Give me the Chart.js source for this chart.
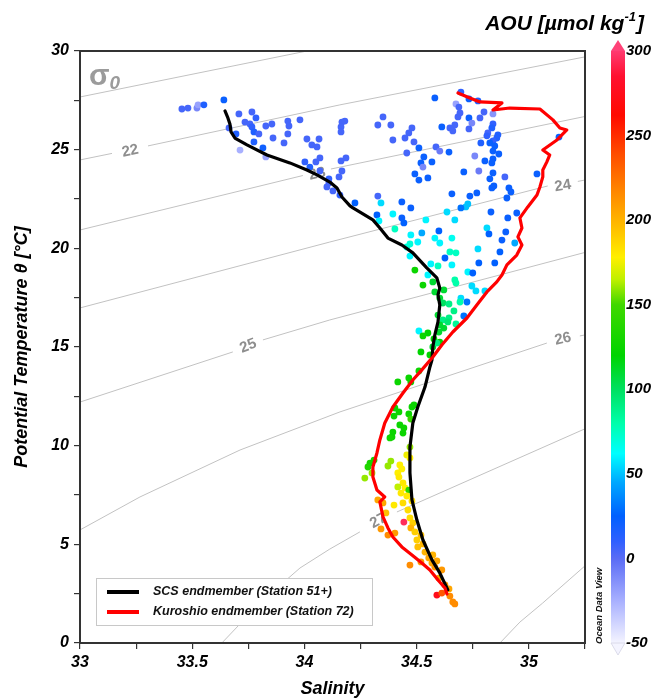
<!DOCTYPE html>
<html>
<head>
<meta charset="utf-8">
<script src="https://cdn.jsdelivr.net/npm/chart.js@4.4.0/dist/chart.umd.min.js"></script>
<style>
  html, body { margin: 0; padding: 0; background: #fff; }
</style>
</head>
<body>
<canvas id="ts" width="651" height="700"></canvas>
<script>
// station samples: salinity, potential temperature, AOU
const salinity = [
  33.454, 33.481, 33.521, 33.526, 33.552, 33.641, 33.708, 33.766, 33.784, 33.735,
  33.757, 33.766, 33.664, 33.695, 33.775, 33.797, 33.828, 33.855, 33.926, 33.931,
  33.980, 33.926, 33.860, 33.909, 34.011, 34.065, 34.033, 34.056, 33.775, 33.815,
  33.713, 33.828, 34.002, 34.069, 34.051, 34.024, 34.069, 34.109, 34.109, 34.100,
  34.127, 34.154, 34.167, 34.163, 34.185, 34.167, 34.180, 34.163, 34.163, 34.158,
  34.581, 34.697, 34.675, 34.688, 34.733, 34.773, 34.840, 34.684, 34.693, 34.733,
  34.782, 34.800, 34.746, 34.733, 34.670, 34.648, 34.661, 34.612, 34.840, 34.835,
  34.817, 34.813, 34.862, 34.857, 34.840, 34.786, 34.826, 34.848, 34.840, 34.866,
  34.840, 34.835, 34.804, 34.759, 34.777, 34.840, 34.826, 34.893, 34.844, 34.835,
  34.911, 34.920, 34.902, 35.036, 35.134, 34.946, 34.906, 34.897, 34.813, 34.831,
  34.710, 34.768, 34.737, 34.719, 34.728, 34.697, 34.670, 34.635, 34.657, 34.599,
  34.644, 34.586, 34.603, 34.568, 34.532, 34.519, 34.528, 34.510, 34.492, 34.510,
  34.550, 34.456, 34.488, 34.448, 34.465, 34.479, 34.394, 34.385, 34.327, 34.350,
  34.327, 34.341, 34.434, 34.474, 34.225, 34.323, 34.332, 34.394, 34.434, 34.443,
  34.403, 34.541, 34.474, 34.523,
  34.470, 34.456, 34.505, 34.581, 34.603, 34.657, 34.773, 34.871, 34.937, 34.880,
  34.822, 34.648, 34.675, 34.626, 34.657, 34.595, 34.563, 34.470, 34.492, 34.550,
  34.777, 34.848, 34.728, 34.750, 34.528, 34.572, 34.670, 34.675, 34.746, 34.764,
  34.804, 34.581, 34.621, 34.603, 34.697, 34.693, 34.724, 34.617, 34.644, 34.666,
  34.710, 34.595, 34.617, 34.644, 34.639, 34.675, 34.603, 34.621, 34.510, 34.550,
  34.528, 34.599, 34.577, 34.603,
  34.519, 34.572, 34.590, 34.559, 34.510, 34.416, 34.465, 34.474, 34.488, 34.479,
  34.403, 34.421, 34.399, 34.465, 34.474, 34.425, 34.443, 34.394, 34.390, 34.439,
  34.381, 34.470, 34.456, 34.470, 34.385, 34.372, 34.425, 34.434, 34.310, 34.292,
  34.283, 34.416,
  34.269, 34.301, 34.421, 34.439, 34.416, 34.448, 34.430, 34.465, 34.456, 34.479,
  34.399, 34.439, 34.461, 34.327, 34.350, 34.363, 34.443, 34.470, 34.483, 34.474,
  34.492, 34.519, 34.341, 34.372, 34.403, 34.501, 34.528, 34.505, 34.537, 34.554,
  34.572, 34.568, 34.581, 34.590, 34.612, 34.470, 34.519, 34.599, 34.626, 34.644,
  34.590, 34.612, 34.648, 34.661, 34.670
];
const theta = [
  27.06, 27.11, 27.11, 27.27, 27.27, 27.52, 26.81, 26.91, 26.61, 26.40,
  26.30, 26.15, 26.10, 25.80, 25.90, 25.80, 26.20, 26.30, 26.45, 26.20,
  26.51, 25.80, 25.59, 25.34, 25.54, 25.54, 25.24, 25.14, 25.39, 25.09,
  24.98, 24.63, 24.38, 24.58, 24.38, 24.12, 23.92, 23.52, 23.31, 23.11,
  22.91, 23.62, 23.92, 24.43, 24.58, 26.40, 26.45, 26.15, 25.90, 22.70,
  27.62, 27.92, 27.32, 27.16, 27.57, 27.47, 26.81, 26.66, 26.86, 26.61,
  26.61, 26.91, 26.35, 26.05, 26.25, 26.10, 25.95, 26.15, 26.30, 26.10,
  25.85, 25.70, 25.75, 25.59, 25.44, 25.34, 25.34, 25.19, 24.93, 24.78,
  24.53, 24.33, 24.43, 24.68, 23.92, 23.82, 23.52, 23.62, 23.16, 23.06,
  23.06, 22.86, 22.55, 23.77, 25.64, 21.79, 21.54, 20.83, 21.03, 21.84,
  23.87, 22.81, 22.65, 22.10, 22.25, 22.05, 21.44, 21.84, 22.76, 20.88,
  24.88, 25.14, 24.93, 24.38, 24.63, 24.33, 24.12, 25.09, 23.77, 23.46,
  23.57, 24.83, 25.39, 25.59, 25.85, 26.10, 25.49, 26.25, 26.25, 26.66,
  22.65, 22.30, 22.35, 22.05, 22.30, 21.69, 21.39, 21.74, 21.54, 21.29,
  20.98, 21.44, 20.68, 20.78,
  20.22, 20.07, 20.32, 20.52, 20.27, 20.52, 19.97, 19.82, 20.27, 20.42,
  20.73, 19.82, 19.77, 19.51, 19.16, 19.11, 19.21, 19.61, 18.90, 18.65,
  19.26, 19.26, 18.80, 18.75, 18.14, 18.30, 18.40, 18.24, 18.09, 17.84,
  17.84, 17.79, 17.89, 17.48, 17.48, 17.28, 17.28, 17.23, 17.18, 16.83,
  16.57, 16.62, 16.37, 16.47, 16.27, 16.17, 16.12, 15.96, 15.81, 15.71,
  15.56, 15.76, 15.41, 15.25,
  14.75, 15.00, 15.20, 14.60, 13.79, 13.23, 13.43, 13.23, 12.06, 11.96,
  11.91, 11.71, 11.50, 11.61, 11.35, 11.05, 10.90, 10.69, 10.44, 10.64,
  10.39, 9.93, 9.53, 9.38, 9.22, 8.97, 9.02, 8.82, 9.27, 9.12,
  8.92, 8.62,
  8.36, 8.62, 8.41, 8.11, 7.91, 7.86, 7.60, 7.75, 7.45, 7.20,
  6.99, 7.10, 6.74, 7.25, 7.10, 6.59, 6.13, 6.34, 6.08, 5.83,
  5.63, 5.47, 5.78, 5.47, 5.57, 5.22, 5.02, 4.87, 4.61, 4.31,
  4.46, 4.05, 3.85, 4.16, 3.70, 3.95, 4.11, 3.29, 2.94, 2.74,
  2.43, 2.53, 2.38, 2.08, 1.98
];
const aou = [
  5, 5, -10, -20, 15, 22, 5, 5, 10, 5,
  5, 10, 5, 15, 15, 5, 5, 5, 5, 5,
  5, 5, 5, 5, 5, 5, 5, 5, 15, 20,
  -25, -20, 10, 5, 5, 15, 5, 10, 5, 5,
  5, 5, 5, 5, 5, 5, 5, 5, 5, 10,
  22, 10, -20, 5, 22, 15, -15, 5, 5, 22,
  5, 5, -10, 5, 5, 5, 5, 22, 10, 15,
  5, 10, 15, 15, 10, 15, 22, 22, 22, 22,
  22, 22, 22, -10, -5, 22, 22, 5, 22, 22,
  22, 22, 22, 22, 22, 22, 22, 22, 55, 22,
  22, 22, 22, 50, 50, 30, 55, 55, 22, 25,
  22, 5, -5, 22, 22, 22, -10, 22, 22, 22,
  22, 5, 5, 5, 5, 5, 5, 5, 5, 5,
  5, 55, 22, 22, 25, 25, 60, 60, 22, 25,
  75, 60, 60, 45,
  70, 70, 60, 60, 60, 65, 55, 25, 45, 22,
  25, 75, 75, 25, 60, 75, 60, 60, 125, 60,
  25, 25, 60, 25, 125, 110, 80, 80, 55, 55,
  55, 110, 110, 110, 55, 80, 30, 100, 90, 90,
  30, 110, 90, 90, 95, 85, 110, 110, 60, 120,
  125, 110, 120, 120,
  120, 110, 90, 120, 125, 125, 125, 125, 125, 125,
  125, 125, 125, 125, 145, 125, 125, 125, 125, 125,
  130, 160, 175, 178, 160, 160, 178, 178, 130, 130,
  135, 178,
  160, 160, 180, 180, 165, 178, 180, 140, 180, 185,
  180, 185, 185, 205, 205, 195, 295, 185, 190, 200,
  190, 195, 210, 215, 210, 190, 200, 195, 200, 205,
  200, 205, 210, 205, 210, 215, 210, 205, 210, 205,
  275, 235, 215, 215, 215
];

// endmember profiles
const scsS = [33.646, 33.659, 33.668, 33.673, 33.690, 33.744, 33.833, 33.935, 34.011, 34.056,
  34.113, 34.145, 34.167, 34.203, 34.216, 34.305, 34.336, 34.372, 34.434, 34.483,
  34.545, 34.590, 34.603, 34.595, 34.603, 34.595, 34.581, 34.572, 34.568, 34.559,
  34.537, 34.505, 34.483, 34.470, 34.470, 34.479, 34.501, 34.528, 34.568, 34.603, 34.639];
const scsT = [26.96, 26.61, 26.30, 25.90, 25.59, 25.24, 24.73, 24.33, 23.97, 23.72,
  23.36, 23.06, 22.60, 22.15, 22.05, 21.44, 21.03, 20.52, 20.17, 19.77,
  19.01, 18.50, 17.99, 17.64, 17.13, 16.27, 15.61, 15.00, 14.34, 13.99,
  12.97, 11.96, 11.15, 9.93, 8.62, 7.25, 6.23, 5.22, 4.21, 3.55, 2.69];
const kuroS = [34.684, 34.737, 34.782, 34.880, 34.840, 34.915, 35.049, 35.107, 35.138, 35.169,
  35.147, 35.125, 35.062, 35.093, 35.080, 35.062, 35.062, 35.049, 35.036, 34.995,
  34.960, 34.969, 34.951, 34.969, 34.946, 34.902, 34.880, 34.857, 34.813, 34.768,
  34.724, 34.661, 34.612, 34.572, 34.523, 34.483, 34.439, 34.394, 34.358, 34.336,
  34.323, 34.305, 34.305, 34.323, 34.358, 34.336, 34.350, 34.372, 34.394, 34.434,
  34.479, 34.523, 34.559, 34.595, 34.626, 34.635];
const kuroT = [27.87, 27.62, 27.42, 27.37, 27.01, 27.11, 27.06, 26.51, 26.10, 26.00,
  25.75, 25.49, 24.98, 24.73, 24.38, 23.97, 23.62, 23.11, 22.70, 22.10,
  21.54, 21.03, 20.58, 20.17, 19.66, 19.16, 18.65, 18.30, 17.79, 17.13,
  16.47, 15.76, 15.10, 14.49, 13.84, 13.33, 12.67, 11.96, 11.15, 10.29,
  9.63, 8.92, 8.41, 7.75, 7.40, 7.15, 6.39, 5.83, 5.37, 4.87,
  4.46, 4.05, 3.70, 3.19, 2.79, 2.48];

// sigma-0 isopycnals (null = gap where the label sits)
const isoLevels = [21, 22, 23, 24, 25, 26, 27, 28];
const isoS = [
  [33.000, 34.011],
  [33.000, 33.1425, 33.223, 33.303, 34.158, 35.249],
  [33.000, 33.993, 34.056, 34.118, 35.249],
  [33.000, 34.113, 35.084, 35.151, 35.218, 35.249],
  [33.000, 33.681, 33.748, 33.815, 34.113, 35.249],
  [33.000, 33.267, 33.713, 34.158, 34.644, 35.080, 35.151, 35.227, 35.249],
  [33.632, 33.802, 33.980, 34.113, 34.247, 34.327, 34.412, 35.249],
  [34.871, 34.960, 35.062, 35.249]
];
const isoT = [
  [27.67, 30.00],
  [24.48, 24.81, null, 25.19, 27.27, 29.70],
  [20.93, 23.69, null, 24.02, 26.68],
  [16.98, 20.32, 23.16, null, 23.39, 23.46],
  [12.21, 14.75, null, 15.36, 16.37, 19.79],
  [5.73, 7.40, 9.78, 11.71, 13.55, 15.20, null, 15.56, 15.61],
  [0.00, 2.03, 3.80, 4.76, 5.63, null, 6.64, 10.85],
  [0.00, 1.06, 2.03, 3.90]
];
const isoLabelT = [null, 24.98, 23.82, 23.21, 15.10, 15.46, 6.23, null];

const salinityLabels = [33, 33.5, 34, 34.5, 35];
const thetaLabels = [0, 5, 10, 15, 20, 25, 30];

// ODV-like colour scale for AOU
const cmapValues = [-50, -25, 0, 10, 25, 45, 62, 80, 100, 120, 150, 165, 178, 195, 215, 240, 262, 285, 300];
const cmapColors = ['#f4f4ff', '#a8b0ff', '#5a6cf5', '#3060ff', '#0060ff', '#00a8ff', '#00ffff', '#00ffaa', '#00e060',
  '#00d400', '#40d800', '#c0f000', '#ffef00', '#ffc000', '#ff8c00', '#ff4a00', '#ff0a00', '#ff1030', '#ff3a70'];

const FONT = '"Liberation Sans", Arial, Helvetica, sans-serif';
const cmapRGB = cmapColors.map(h => [1, 3, 5].map(i => parseInt(h.slice(i, i + 2), 16)));

function aouColor(v) {
  if (v <= cmapValues[0]) return cmapColors[0];
  for (let i = 1; i < cmapValues.length; i++) {
    if (v <= cmapValues[i]) {
      const f = (v - cmapValues[i - 1]) / (cmapValues[i] - cmapValues[i - 1]);
      const a = cmapRGB[i - 1], b = cmapRGB[i];
      return 'rgb(' + a.map((c, j) => Math.round(c + (b[j] - c) * f)).join(',') + ')';
    }
  }
  return cmapColors[cmapColors.length - 1];
}

const xy = (sArr, tArr) => sArr.map((s, i) => ({ x: s, y: tArr[i] }));

const isoSets = isoLevels.map((lvl, i) => ({
  type: 'line',
  label: 'sigma ' + lvl,
  data: xy(isoS[i], isoT[i]),
  borderColor: '#c2c2c2',
  borderWidth: 1,
  pointRadius: 0,
  spanGaps: false,
  fill: false,
  order: 4
}));

const decor = {
  id: 'decor',
  beforeDatasetsDraw(chart) {
    const { ctx, scales: { x, y } } = chart;
    ctx.save();
    ctx.font = 'bold 15px ' + FONT;
    ctx.fillStyle = '#8e8e8e';
    ctx.textAlign = 'center';
    ctx.textBaseline = 'middle';
    isoLevels.forEach((lvl, i) => {
      const k = isoT[i].indexOf(null);
      if (k < 0) return;
      const ang = Math.atan2(
        y.getPixelForValue(isoT[i][k + 1]) - y.getPixelForValue(isoT[i][k - 1]),
        x.getPixelForValue(isoS[i][k + 1]) - x.getPixelForValue(isoS[i][k - 1]));
      ctx.save();
      ctx.translate(x.getPixelForValue(isoS[i][k]), y.getPixelForValue(isoLabelT[i]));
      ctx.rotate(ang);
      ctx.fillText(String(lvl), 0, 1);
      ctx.restore();
    });
    ctx.restore();
  },
  afterDraw(chart) {
    const { ctx, chartArea: a } = chart;
    ctx.save();

    // frame
    ctx.strokeStyle = '#333';
    ctx.lineWidth = 2;
    ctx.strokeRect(a.left, a.top, a.right - a.left, a.bottom - a.top);

    // sigma-0 tag
    ctx.fillStyle = '#9b9b9b';
    ctx.textBaseline = 'alphabetic';
    ctx.textAlign = 'left';
    ctx.font = 'bold 30px ' + FONT;
    ctx.fillText('σ', a.left + 9, a.top + 34);
    const sw = ctx.measureText('σ').width;
    ctx.font = 'bold italic 19px ' + FONT;
    ctx.fillText('0', a.left + 9 + sw, a.top + 38);

    // legend (SCS first, then Kuroshio)
    const lx = a.left + 16, ly = a.bottom - 65, lw = 276, lh = 47;
    ctx.fillStyle = '#fff';
    ctx.fillRect(lx, ly, lw, lh);
    ctx.strokeStyle = '#c8c8c8';
    ctx.lineWidth = 1;
    ctx.strokeRect(lx + 0.5, ly + 0.5, lw, lh);
    ctx.font = 'bold italic 12.5px ' + FONT;
    ctx.textBaseline = 'middle';
    chart.data.datasets.filter(d => d.legendRow !== undefined)
      .sort((p, q) => p.legendRow - q.legendRow)
      .forEach((d, i) => {
        const yy = ly + 14 + i * 20;
        ctx.strokeStyle = d.borderColor;
        ctx.lineWidth = 4;
        ctx.beginPath();
        ctx.moveTo(lx + 11, yy);
        ctx.lineTo(lx + 43, yy);
        ctx.stroke();
        ctx.fillStyle = '#111';
        ctx.fillText(d.label, lx + 57, yy);
      });

    // colour bar
    const cb = chart.scales.cb;
    const bx = cb.left + 26, bw = 14;
    const yT = cb.getPixelForValue(cb.max), yB = cb.getPixelForValue(cb.min);
    const g = ctx.createLinearGradient(0, yB, 0, yT);
    cmapValues.forEach((v, i) => g.addColorStop((v - cb.min) / (cb.max - cb.min), cmapColors[i]));
    ctx.fillStyle = g;
    ctx.fillRect(bx, yT, bw, yB - yT);
    ctx.beginPath();
    ctx.moveTo(bx, yT); ctx.lineTo(bx + bw / 2, yT - 11); ctx.lineTo(bx + bw, yT);
    ctx.closePath();
    ctx.fillStyle = '#ff4277';
    ctx.fill();
    ctx.beginPath();
    ctx.moveTo(bx, yB); ctx.lineTo(bx + bw / 2, yB + 12); ctx.lineTo(bx + bw, yB);
    ctx.closePath();
    ctx.fillStyle = '#f4f4ff';
    ctx.fill();
    ctx.strokeStyle = '#d4d4e4';
    ctx.lineWidth = 0.8;
    ctx.stroke();

    // Ocean Data View tag
    ctx.save();
    ctx.translate(cb.left + 14, a.bottom + 1);
    ctx.rotate(-Math.PI / 2);
    ctx.font = 'bold italic 9.5px ' + FONT;
    ctx.fillStyle = '#111';
    ctx.textAlign = 'left';
    ctx.textBaseline = 'middle';
    ctx.fillText('Ocean Data View', 0, 0);
    ctx.restore();

    // colour bar title
    const t1 = 'AOU [µmol kg', t2 = '-1', t3 = ']';
    ctx.fillStyle = '#000';
    ctx.textBaseline = 'alphabetic';
    ctx.textAlign = 'left';
    ctx.font = 'bold italic 21px ' + FONT;
    const w1 = ctx.measureText(t1).width, w3 = ctx.measureText(t3).width;
    ctx.font = 'bold italic 13px ' + FONT;
    const w2 = ctx.measureText(t2).width;
    const tx = 644 - (w1 + w2 + w3 + 1);
    const ty = 30;
    ctx.font = 'bold italic 21px ' + FONT;
    ctx.fillText(t1, tx, ty);
    ctx.font = 'bold italic 13px ' + FONT;
    ctx.fillText(t2, tx + w1, ty - 9);
    ctx.font = 'bold italic 21px ' + FONT;
    ctx.fillText(t3, tx + w1 + w2 + 1, ty);

    ctx.restore();
  }
};

const tickFont = { family: FONT, size: 16, weight: 'bold', style: 'italic' };
const titleFont = { family: FONT, size: 18, weight: 'bold', style: 'italic' };

new Chart(document.getElementById('ts'), {
  type: 'scatter',
  data: {
    datasets: [
      {
        type: 'line', label: 'Kuroshio endmember (Station 72)', legendRow: 1,
        data: xy(kuroS, kuroT), borderColor: '#ff0000', borderWidth: 3.2,
        pointRadius: 0, fill: false, borderJoinStyle: 'round', borderCapStyle: 'round', order: 1
      },
      {
        type: 'line', label: 'SCS endmember (Station 51+)', legendRow: 0,
        data: xy(scsS, scsT), borderColor: '#000000', borderWidth: 3.2,
        pointRadius: 0, fill: false, borderJoinStyle: 'round', borderCapStyle: 'round', order: 2
      },
      {
        type: 'scatter', label: 'AOU samples',
        data: xy(salinity, theta),
        pointRadius: 3.4, pointBorderWidth: 0, borderWidth: 0,
        backgroundColor: c => aouColor(aou[c.dataIndex]),
        pointBackgroundColor: c => aouColor(aou[c.dataIndex]),
        order: 3
      },
      ...isoSets
    ]
  },
  options: {
    responsive: false,
    animation: false,
    devicePixelRatio: 1,
    layout: { padding: { top: 51, left: 0, right: 0, bottom: 0 } },
    plugins: { legend: { display: false }, tooltip: { enabled: false } },
    scales: {
      x: {
        type: 'linear', position: 'bottom', min: 33, max: 35.25,
        afterFit: s => { s.height = 57; },
        grid: { display: true, drawOnChartArea: false, drawTicks: true, tickLength: 6, color: '#333', lineWidth: 1.2 },
        border: { display: true, color: '#333', width: 2 },
        ticks: {
          stepSize: 0.25, autoSkip: false, maxRotation: 0, padding: 4, color: '#000', font: tickFont,
          callback: v => salinityLabels.some(l => Math.abs(l - v) < 1e-6) ? String(v) : ''
        },
        title: { display: true, text: 'Salinity', color: '#000', font: titleFont, padding: { top: 0, bottom: 0 } }
      },
      y: {
        type: 'linear', position: 'left', min: 0, max: 30,
        afterFit: s => { s.width = 80; },
        grid: { display: true, drawOnChartArea: false, drawTicks: true, tickLength: 6, color: '#333', lineWidth: 1.2 },
        border: { display: true, color: '#333', width: 2 },
        ticks: {
          stepSize: 2.5, autoSkip: false, padding: 5, color: '#000', font: tickFont,
          callback: v => thetaLabels.some(l => Math.abs(l - v) < 1e-6) ? String(v) : ''
        },
        title: { display: true, text: 'Potential Temperature θ [°C]', color: '#000', font: titleFont, padding: { top: 11, bottom: 0 } }
      },
      cb: {
        type: 'linear', position: 'right', min: -50, max: 300,
        afterFit: s => { s.width = 66; },
        grid: { display: false, drawTicks: false },
        border: { display: false },
        ticks: { stepSize: 50, autoSkip: false, padding: 41, color: '#000', font: { family: FONT, size: 15, weight: 'bold', style: 'italic' } }
      }
    }
  },
  plugins: [decor]
});
</script>
</body>
</html>
